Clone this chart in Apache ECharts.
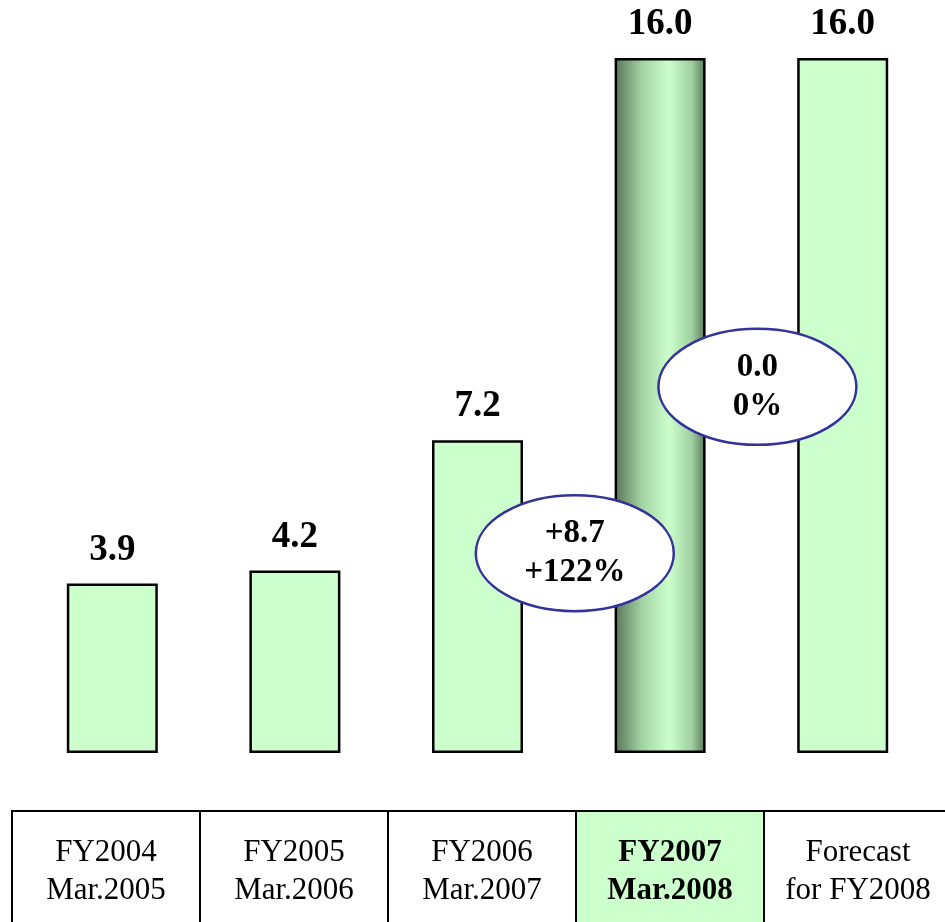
<!DOCTYPE html>
<html><head><meta charset="utf-8">
<script src="https://cdn.jsdelivr.net/npm/echarts@6/dist/echarts.min.js"></script>
<style>html,body{margin:0;padding:0;background:#fff}#c{width:945px;height:922px}</style>
</head><body><div id="c"></div>
<script>
const categories = ['FY2004\nMar.2005','FY2005\nMar.2006','FY2006\nMar.2007','FY2007\nMar.2008','Forecast\nfor FY2008'];
const values = [3.9, 4.2, 7.2, 16.0, 16.0];
const highlightIndex = 3;
// annotation bubbles: [category position (between bars), value height, texts]
const bubbleX = [2.5, 3.5];
const bubbleY = [4.6, 8.43];
const bubbleText = [['+8.7','+122%'],['0.0','0%']];

const chart = echarts.init(document.getElementById('c'));
const serif = '"Liberation Serif","Times New Roman",serif';
const gradient = new echarts.graphic.LinearGradient(0,0,1,0,[
  {offset:0,color:'#567556'},{offset:0.3,color:'#a3d3a3'},{offset:0.6,color:'#ccffcc'},
  {offset:0.85,color:'#a0cfa0'},{offset:1,color:'#567556'}]);

const option = {
  animation:false,
  grid:{left:21,right:11,top:58,bottom:169},
  xAxis:{type:'category',data:categories,show:false},
  yAxis:{type:'value',min:0,max:16,show:false},
  series:[{
    type:'bar',barWidth:91,
    data: values.map((v,i)=>({value:v,itemStyle: i===highlightIndex?{color:gradient}:{}})),
    itemStyle:{color:'#ccffcc',borderColor:'#000',borderWidth:2.5},
    label:{show:true,position:'top',distance:15,formatter:p=>p.value.toFixed(1),
      fontFamily:serif,fontWeight:'bold',fontSize:37,color:'#000'}
  }]
};
chart.setOption(option);

function build(){
  const g = [];
  const tblTop = 811, tblBottom = 922, tblLeft = 12;
  const colW = 188;
  categories.forEach((c,i)=>{
    const x0 = tblLeft + i*colW;
    g.push({type:'rect',shape:{x:x0,y:tblTop,width:colW,height:tblBottom-tblTop+5},
      style:{fill: i===highlightIndex?'#ccffcc':'#fff',stroke:'#000',lineWidth:2},z:1});
    g.push({type:'text',x:x0+colW/2,y:tblTop+61,style:{text:c,fontFamily:serif,fontSize:31,
      fontWeight:i===highlightIndex?'bold':'normal',fill:'#000',align:'center',verticalAlign:'middle',lineHeight:38},z:2});
  });
  bubbleX.forEach((bx,i)=>{
    const x = chart.convertToPixel({xAxisIndex:0},Math.floor(bx));
    const x2 = chart.convertToPixel({xAxisIndex:0},Math.ceil(bx));
    const cx = (x+x2)/2 + 6;
    const cy = chart.convertToPixel({yAxisIndex:0},bubbleY[i]);
    g.push({type:'ellipse',shape:{cx:cx,cy:cy,rx:99,ry:58},style:{fill:'#fff',stroke:'#333399',lineWidth:2.5},z:10});
    g.push({type:'text',x:cx,y:cy,style:{text:bubbleText[i].join('\n'),fontFamily:serif,fontSize:33,fontWeight:'bold',
      fill:'#000',align:'center',verticalAlign:'middle',lineHeight:39},z:11});
  });
  chart.setOption({graphic:g});
}
build();
</script></body></html>
